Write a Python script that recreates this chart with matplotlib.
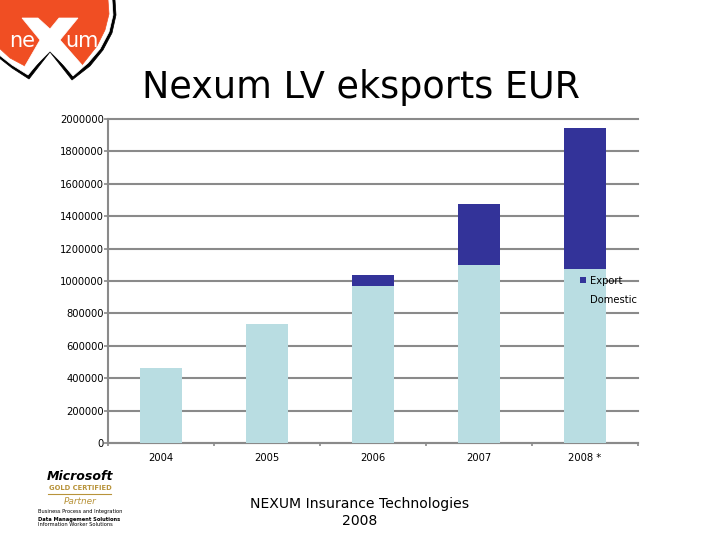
import matplotlib
matplotlib.use('Agg')
import matplotlib.pyplot as plt
from matplotlib.patches import Polygon

years = ['2004', '2005', '2006', '2007', '2008 *']
domestic = [463000, 735000, 969000, 1099000, 1074000]
export = [0, 0, 68000, 376000, 870000]

GREY = '#8a8a8a'
LIGHT = '#b9dde2'
DARK = '#333399'
GOLD = '#b8933a'

fig = plt.figure(figsize=(7.2, 5.4), dpi=100)
ax = fig.add_axes([108 / 720, 97 / 540, 530 / 720, 324 / 540])

# bars
x = list(range(len(years)))
ax.bar(x, domestic, width=0.396, color=LIGHT, label='Domestic', zorder=3)
ax.bar(x, export, width=0.396, bottom=domestic, color=DARK, label='Export', zorder=3)

ax.set_xlim(-0.5, 4.5)
ax.set_ylim(0, 2000000)
ax.set_yticks(range(0, 2000001, 200000))
ax.set_yticklabels([str(v) for v in range(0, 2000001, 200000)])
ax.tick_params(axis='y', labelsize=7.2, length=3, width=1.2, color=GREY, pad=0)
ax.grid(axis='y', color=GREY, linewidth=1.5, zorder=1)
ax.set_axisbelow(True)
# the top gridline sits on the axes edge, don't let it get cut in half
for line in ax.get_ygridlines():
    line.set_clip_on(False)

# group boundaries get the ticks, the labels sit in the middle
ax.set_xticks([i - 0.5 for i in range(6)])
ax.set_xticklabels([])
ax.set_xticks(x, minor=True)
ax.set_xticklabels(years, minor=True, fontsize=7.2)
ax.tick_params(axis='x', which='major', length=2, width=1.2, color=GREY)
ax.tick_params(axis='x', which='minor', length=0, pad=7)

for s in ['top', 'right']:
    ax.spines[s].set_visible(False)
for s in ['left', 'bottom']:
    ax.spines[s].set_color(GREY)
    ax.spines[s].set_linewidth(1.5)

handles, labels = ax.get_legend_handles_labels()
leg = ax.legend(handles[::-1], labels[::-1], loc='upper left', frameon=False,
                bbox_to_anchor=(472 / 530, 167 / 324), borderaxespad=0, borderpad=0,
                fontsize=7.2, handlelength=0.55, handleheight=0.55, handletextpad=0.45,
                labelspacing=0.9)
leg.set_zorder(5)

# overlay in pixel coordinates for title, footer and logos
ov = fig.add_axes([0, 0, 1, 1], zorder=10)
ov.set_xlim(0, 720)
ov.set_ylim(540, 0)
ov.axis('off')

ov.text(361, 88, 'Nexum LV eksports EUR', fontsize=26.3, ha='center', va='center', color='black')
ov.text(360, 504, 'NEXUM Insurance Technologies', fontsize=10.1, ha='center', va='center')
ov.text(360, 521, '2008', fontsize=10.1, ha='center', va='center')

# nexum logo
outer = [(-2, 0), (115, 0), (116, 15), (112, 33), (103, 50), (90, 66), (72, 80), (50, 52),
         (29, 79), (12, 68), (-2, 57)]
white = [(-2, 0), (112, 0), (113, 15), (109, 32), (100, 49), (88, 63), (73, 76), (50, 48),
         (28, 75), (12, 65), (-2, 54)]
red = [(-2, 0), (108, 0), (109, 14), (105, 30), (97, 46), (82, 65), (50, 28), (25, 66),
       (10, 58), (-2, 47)]
cross = [(22, 18), (38, 18), (50, 29), (59, 18), (78, 18), (60, 40), (82, 65), (73, 74),
         (50, 51), (28, 73), (25, 66), (40, 40)]
ov.add_patch(Polygon(outer, closed=True, fc='black', ec='black', lw=0.5))
ov.add_patch(Polygon(white, closed=True, fc='white', ec='white', lw=0.5))
ov.add_patch(Polygon(red, closed=True, fc='#f04e23', ec='#f04e23', lw=0.5))
ov.add_patch(Polygon(cross, closed=True, fc='white', ec='white', lw=0.5))
ov.text(22, 41, 'ne', fontsize=15, color='white', ha='center', va='center')
ov.text(82, 41, 'um', fontsize=15, color='white', ha='center', va='center')

# partner logo
ov.text(80, 477, 'Microsoft', fontsize=9, weight='bold', style='italic', ha='center', va='center')
ov.text(80, 488, 'GOLD CERTIFIED', fontsize=4.9, color=GOLD, weight='bold', ha='center', va='center')
ov.plot([48, 111], [494, 494], color=GOLD, lw=0.8)
ov.text(80, 502, 'Partner', fontsize=6.4, color=GOLD, style='italic', ha='center', va='center')
ov.text(38, 512, 'Business Process and Integration', fontsize=3.7, ha='left', va='center')
ov.text(38, 519, 'Data Management Solutions', fontsize=3.7, weight='bold', ha='left', va='center')
ov.text(38, 525, 'Information Worker Solutions', fontsize=3.7, ha='left', va='center')

fig.savefig('out.png', dpi=100)
